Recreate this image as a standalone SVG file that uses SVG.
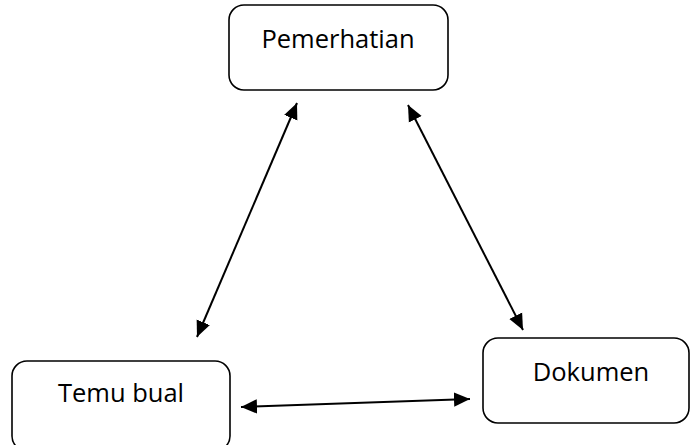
<svg xmlns="http://www.w3.org/2000/svg" width="691" height="445" viewBox="0 0 691 445">
<style>
.box{fill:#fff;stroke:#000;stroke-width:1.6}
.lbl{font-family:"Open Sans","DejaVu Sans",sans-serif;font-size:25.5px;fill:#000;text-anchor:middle}
.con{stroke:#000;stroke-width:2;fill:none;marker-start:url(#ah);marker-end:url(#ah)}
</style>
<defs>
<marker id="ah" viewBox="0 0 10 10" refX="10" refY="5" markerWidth="8" markerHeight="8" markerUnits="strokeWidth" orient="auto-start-reverse">
<path d="M0,0.5 L10,5 L0,9.5 z" fill="#000"/>
</marker>
</defs>
<rect width="691" height="445" fill="#fff"/>
<g id="pemerhatian">
<rect class="box" x="229" y="5" width="219" height="85" rx="15"/>
<text class="lbl" x="338" y="48">Pemerhatian</text>
</g>
<g id="temubual">
<rect class="box" x="12" y="361" width="218" height="90" rx="15"/>
<text class="lbl" x="121" y="402">Temu bual</text>
</g>
<g id="dokumen">
<rect class="box" x="483" y="338" width="206" height="85" rx="15"/>
<text class="lbl" x="591" y="381">Dokumen</text>
</g>
<g id="connectors">
<line class="con" x1="297" y1="103" x2="197" y2="337"/>
<line class="con" x1="408" y1="105" x2="523" y2="330"/>
<line class="con" x1="241" y1="407" x2="470" y2="399"/>
</g>
</svg>
